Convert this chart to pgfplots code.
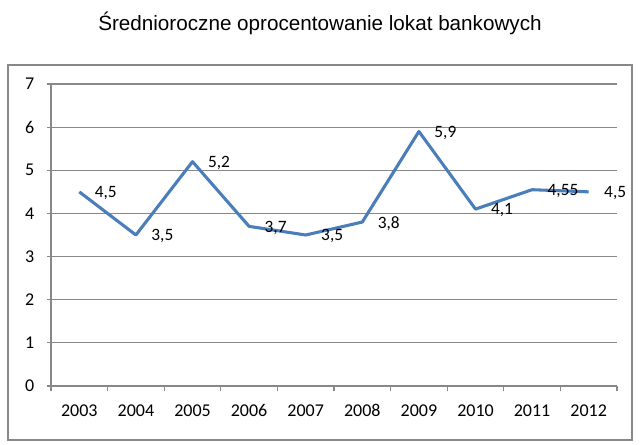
\documentclass[border=0pt]{standalone}
\usepackage{fontspec}
\setmainfont{Carlito}
\newfontfamily\titlefont{Liberation Sans}
\usepackage{pgfplots}
\pgfplotsset{compat=1.18}
\definecolor{linblue}{HTML}{4A7EBB}
\definecolor{gridgray}{HTML}{888888}

\begin{document}
\begin{tikzpicture}[x=1pt,y=1pt]
\useasboundingbox (0,0) rectangle (480,333.75);
\fill[white] (0,0) rectangle (480,333.75);
\draw[gridgray, line width=1.1pt] (6,3.75) rectangle (474,285);
\node[font=\titlefont\fontsize{15.5}{18}\selectfont] at (240,316.5) {Średnioroczne oprocentowanie lokat bankowych};
\begin{axis}[
    at={(38.25pt,44.25pt)}, anchor=south west,
    scale only axis, width=424.5pt, height=226.5pt,
    xmin=-0.5, xmax=9.5, ymin=0, ymax=7,
    axis x line*=bottom, axis y line*=left,
    axis line style={gridgray, line width=0.8pt},
    xtick={0,...,9},
    xticklabels={2003,2004,2005,2006,2007,2008,2009,2010,2011,2012},
    minor xtick={-0.5,0.5,...,9.5},
    ytick={0,...,7},
    ymajorgrids, major grid style={gridgray, line width=0.8pt},
    tick align=outside,
    major tick length=3pt, minor tick length=4pt,
    x tick style={draw=none},
    minor x tick style={draw=gridgray, line width=0.8pt},
    y tick style={gridgray, line width=0.8pt},
    /pgf/number format/assume math mode=true,
    ticklabel style={font=\fontsize{13.5}{16}\selectfont, black},
    xticklabel style={yshift=-7pt, text height=9pt, text depth=0pt},
    yticklabel style={xshift=-6pt},
    clip=false,
  ]
  \addplot[linblue, line width=2.3pt, line join=round, no marks,
    nodes near coords={\Label},
    visualization depends on={value \thisrow{label} \as \Label},
    every node near coord/.style={anchor=west, inner sep=0pt, xshift=10.5pt, yshift=-1pt, black, font=\fontsize{13}{15}\selectfont},
  ] table {
    x y label
    0 4.5 {4,5}
    1 3.5 {3,5}
    2 5.2 {5,2}
    3 3.7 {3,7}
    4 3.5 {3,5}
    5 3.8 {3,8}
    6 5.9 {5,9}
    7 4.1 {4,1}
    8 4.55 {4,55}
    9 4.5 {4,5}
  };
\end{axis}
\end{tikzpicture}
\end{document}
